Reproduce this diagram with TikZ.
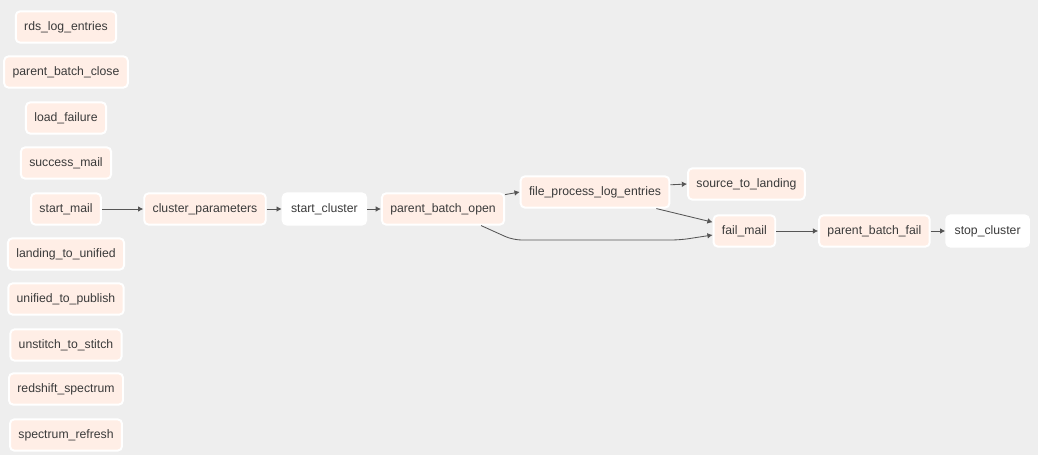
\documentclass[tikz,border=0pt]{standalone}
\usepackage{fontspec}
\setmainfont{Liberation Sans}
\usepackage{xcolor}
\usepackage{tikz}
\usetikzlibrary{arrows.meta, positioning, calc, backgrounds}

\definecolor{canvas}{HTML}{EEEEEE}
\definecolor{taskfill}{HTML}{FFEEE6}
\definecolor{taskwhite}{HTML}{FFFFFF}
\definecolor{textgray}{HTML}{3A3A3A}
\definecolor{linegray}{HTML}{555555}

\tikzset{
  task/.style={draw=white, line width=1.4pt, rounded corners=3pt, fill=taskfill,
    minimum height=0.78cm, inner xsep=0.21cm, inner ysep=0pt, text=textgray,
    font=\fontsize{8.7}{10}\selectfont},
  plaintask/.style={task, fill=taskwhite},
  dagline/.style={draw=linegray, line width=0.6pt, -{Latex[length=1.3mm, width=1.4mm]}}
}

\begin{document}
\begin{tikzpicture}
  % Canvas
  \fill[canvas] (0,0) rectangle (25.95,-11.375);
  \useasboundingbox (0,0) rectangle (25.95,-11.375);
  % Left column of tasks
  \foreach \nname/\nlabel/\ypos in
    {rdslog/rds\_log\_entries/-0.675, pbclose/parent\_batch\_close/-1.8,
     loadfail/load\_failure/-2.95, succmail/success\_mail/-4.075,
     startmail/start\_mail/-5.225, landuni/landing\_to\_unified/-6.35,
     unipub/unified\_to\_publish/-7.475, unstitch/unstitch\_to\_stitch/-8.625,
     rsspec/redshift\_spectrum/-9.725, specref/spectrum\_refresh/-10.875} {
    \node[task] (\nname) at (1.65,\ypos) {\nlabel};
  }
  % Main chain
  \node[task] (clparams) at (5.125,-5.225) {cluster\_parameters};
  \node[plaintask] (startcl) at (8.11,-5.225) {start\_cluster};
  \node[task] (pbopen) at (11.075,-5.225) {parent\_batch\_open};
  \node[task] (fplog) at (14.875,-4.8) {file\_process\_log\_entries};
  \node[task] (srcland) at (18.66,-4.6) {source\_to\_landing};
  \node[task] (failmail) at (18.61,-5.775) {fail\_mail};
  \node[task] (pbfail) at (21.86,-5.775) {parent\_batch\_fail};
  \node[plaintask] (stopcl) at (24.69,-5.775) {stop\_cluster};
  % Dependencies
  \draw[dagline] (startmail) -- (clparams);
  \draw[dagline] (clparams) -- (startcl);
  \draw[dagline] (startcl) -- (pbopen);
  \draw[dagline] ([yshift=0.36cm]pbopen.east) -- (fplog.west);
  \draw[dagline] ([yshift=0.18cm]fplog.east) -- (srcland.west);
  \draw[dagline] ([xshift=-0.35cm]fplog.south east) -- ([yshift=0.22cm]failmail.west);
  \draw[dagline, rounded corners=6pt] ([xshift=-0.6cm]pbopen.south east)
    -- (12.825,-6.0) -- (17.0,-6.0) -- ([yshift=-0.1cm]failmail.west);
  \draw[dagline] (failmail) -- (pbfail);
  \draw[dagline] (pbfail) -- (stopcl);
\end{tikzpicture}
\end{document}
